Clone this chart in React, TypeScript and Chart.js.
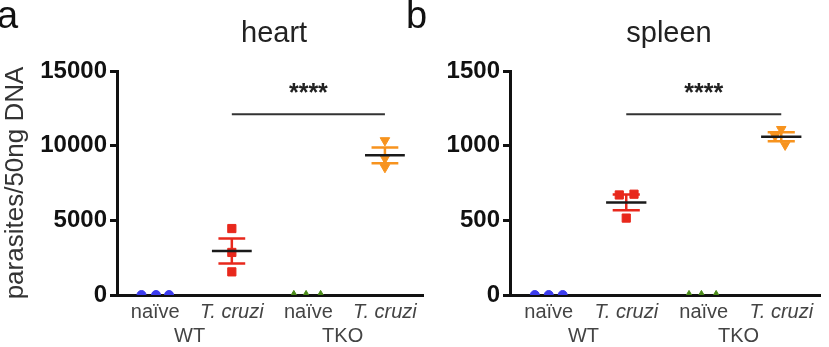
import { useEffect, useRef } from 'react';
import { Chart, registerables } from 'chart.js';

Chart.register(...registerables);

const FONT = '"Liberation Sans", Arial, Helvetica, sans-serif';

// x-axis groups (two strains, each naïve vs. infected)
const GROUP_LABELS = ['naïve', 'T. cruzi', 'naïve', 'T. cruzi'];
const STRAIN_LABELS = ['WT', 'TKO'];
const GROUP_COLORS = ['#3c3cee', '#e8281c', '#4a8a18', '#f7931e'];
const GROUP_MARKERS = ['circle', 'rect', 'triangle', 'triangle'];
const GROUP_MARKER_ROTATION = [0, 0, 0, 180];
const GROUP_MARKER_RADIUS = [4.5, 5.8, 4.6, 5.5];

// heart: parasite load per animal
const HEART_NAIVE_WT = [0, 0, 0];
const HEART_CRUZI_WT = [4450, 1550, 2850];
const HEART_NAIVE_TKO = [0, 0, 0];
const HEART_CRUZI_TKO = [10350, 8550, 9150];
const HEART_TICKS = [0, 5000, 10000, 15000];
const HEART_SIG_LEVEL = 12100;

// spleen: parasite load per animal
const SPLEEN_NAIVE_WT = [0, 0, 0];
const SPLEEN_CRUZI_WT = [670, 675, 515];
const SPLEEN_NAIVE_TKO = [0, 0, 0];
const SPLEEN_CRUZI_TKO = [1110, 1005, 1065];
const SPLEEN_TICKS = [0, 500, 1000, 1500];
const SPLEEN_SIG_LEVEL = 1210;

const SIG_TEXT = '****';
const Y_TITLE = 'parasites/50ng DNA';

// horizontal scatter of replicate points within a group (fraction of a group slot)
const HEART_JITTER = [[-0.18, 0.01, 0.18], [0, 0, 0], [-0.19, -0.03, 0.16], [0, 0, 0]];
const SPLEEN_JITTER = [[-0.18, 0, 0.18], [-0.09, 0.1, 0], [-0.19, -0.03, 0.16], [0, 0.05, -0.08]];

type PanelSpec = {
  letter: string;
  title: string;
  groups: number[][];
  jitter: number[][];
  ticks: number[];
  sigLevel: number;
  yTitle: string | null;
  yWidth: number;
  padRight: number;
  letterX: number;
};

const meanSem = (vals: number[]) => {
  const n = vals.length;
  const mean = vals.reduce((a, b) => a + b, 0) / n;
  const sd = Math.sqrt(vals.reduce((a, b) => a + (b - mean) ** 2, 0) / (n - 1));
  return { mean, sem: sd / Math.sqrt(n) };
};

const panelPlugin = {
  id: 'panelDecor',
  afterDatasetsDraw(chart: any, _args: any, opts: any) {
    const { ctx } = chart;
    const x = chart.scales.x;
    const y = chart.scales.y;
    const slot = x.getPixelForValue(1) - x.getPixelForValue(0);
    ctx.save();
    // mean ± SEM
    (opts.groups as number[][]).forEach((vals, i) => {
      if (vals.every((v) => v === 0)) return;
      const { mean, sem } = meanSem(vals);
      const cx = x.getPixelForValue(i);
      const yHi = y.getPixelForValue(mean + sem);
      const yLo = y.getPixelForValue(mean - sem);
      const yM = y.getPixelForValue(mean);
      const cap = slot * 0.175;
      const half = slot * 0.26;
      ctx.strokeStyle = GROUP_COLORS[i];
      ctx.lineWidth = 2.5;
      ctx.beginPath();
      ctx.moveTo(cx, yHi);
      ctx.lineTo(cx, yLo);
      ctx.moveTo(cx - cap, yHi);
      ctx.lineTo(cx + cap, yHi);
      ctx.moveTo(cx - cap, yLo);
      ctx.lineTo(cx + cap, yLo);
      ctx.stroke();
      ctx.strokeStyle = '#1a1a1a';
      ctx.beginPath();
      ctx.moveTo(cx - half, yM);
      ctx.lineTo(cx + half, yM);
      ctx.stroke();
    });
    // significance bar between the infected groups
    const sy = y.getPixelForValue(opts.sigLevel);
    const x1 = x.getPixelForValue(1);
    const x2 = x.getPixelForValue(3);
    ctx.strokeStyle = '#333';
    ctx.lineWidth = 2;
    ctx.beginPath();
    ctx.moveTo(x1, sy);
    ctx.lineTo(x2, sy);
    ctx.stroke();
    ctx.fillStyle = '#222';
    ctx.font = `bold 25px ${FONT}`;
    ctx.textAlign = 'center';
    ctx.textBaseline = 'alphabetic';
    ctx.fillText(SIG_TEXT, (x1 + x2) / 2, sy - 13);
    ctx.restore();
  },
  afterDraw(chart: any, _args: any, opts: any) {
    const { ctx, chartArea } = chart;
    const x = chart.scales.x;
    ctx.save();
    ctx.textBaseline = 'alphabetic';
    // panel title
    ctx.fillStyle = '#222';
    ctx.font = `29px ${FONT}`;
    ctx.textAlign = 'center';
    ctx.fillText(opts.title, (chartArea.left + chartArea.right) / 2 + 4, 42);
    // panel letter
    ctx.fillStyle = '#111';
    ctx.font = `38px ${FONT}`;
    ctx.textAlign = 'left';
    ctx.fillText(opts.letter, opts.letterX, 28);
    // strain labels under each pair of groups
    ctx.fillStyle = '#444';
    ctx.font = `20px ${FONT}`;
    ctx.textAlign = 'center';
    STRAIN_LABELS.forEach((s, k) => {
      const cx = (x.getPixelForValue(2 * k) + x.getPixelForValue(2 * k + 1)) / 2;
      ctx.fillText(s, cx - 4, 342);
    });
    ctx.restore();
  },
};

function Panel({ spec, left, width }: { spec: PanelSpec; left: number; width: number }) {
  const ref = useRef<HTMLCanvasElement>(null);
  useEffect(() => {
    const canvas = ref.current;
    if (!canvas) return;
    const datasets = spec.groups.map((vals, i) => ({
      type: 'scatter' as const,
      label: `${GROUP_LABELS[i]} ${STRAIN_LABELS[i >> 1]}`,
      data: vals.map((v, j) => ({ x: i + spec.jitter[i][j], y: v })),
      pointStyle: GROUP_MARKERS[i],
      rotation: GROUP_MARKER_ROTATION[i],
      pointRadius: GROUP_MARKER_RADIUS[i],
      backgroundColor: GROUP_COLORS[i],
      borderColor: GROUP_COLORS[i],
      borderWidth: 1,
      showLine: false,
    }));
    const chart = new Chart(canvas, {
      type: 'scatter',
      data: { datasets },
      options: {
        responsive: false,
        animation: false,
        devicePixelRatio: 1,
        layout: { padding: { top: 71, left: 0, right: spec.padRight, bottom: 0 } },
        plugins: {
          legend: { display: false },
          tooltip: { enabled: false },
          title: { display: false },
          panelDecor: {
            groups: spec.groups,
            sigLevel: spec.sigLevel,
            title: spec.title,
            letter: spec.letter,
            letterX: spec.letterX,
          },
        } as any,
        scales: {
          x: {
            type: 'linear',
            min: -0.5,
            max: 3.5,
            afterBuildTicks: (s: any) => {
              s.ticks = GROUP_LABELS.map((_, i) => ({ value: i }));
            },
            afterFit: (s: any) => {
              s.height = 52;
            },
            border: { display: true, color: '#111', width: 3 },
            grid: { display: false, drawTicks: false },
            ticks: {
              autoSkip: false,
              maxRotation: 0,
              padding: 5,
              color: '#444',
              font: (c: any) => ({ family: FONT, size: 20, style: c.index % 2 ? 'italic' : 'normal' }),
              callback: (v: any) => GROUP_LABELS[v] ?? '',
            },
          },
          y: {
            type: 'linear',
            min: spec.ticks[0],
            max: spec.ticks[spec.ticks.length - 1],
            afterBuildTicks: (s: any) => {
              s.ticks = spec.ticks.map((v) => ({ value: v }));
            },
            afterFit: (s: any) => {
              s.width = spec.yWidth;
            },
            border: { display: true, color: '#111', width: 3 },
            grid: {
              display: true,
              drawOnChartArea: false,
              drawTicks: true,
              tickLength: 7,
              color: '#111',
              lineWidth: 3,
            },
            ticks: {
              padding: 3,
              color: '#111',
              font: { family: FONT, size: 24, weight: 'bold' },
              callback: (v: any) => String(v),
            },
            title: {
              display: !!spec.yTitle,
              text: spec.yTitle ?? '',
              color: '#333',
              font: { family: FONT, size: 26 },
              padding: 0,
            },
          },
        },
      },
      plugins: [panelPlugin],
    } as any);
    return () => chart.destroy();
  }, [spec]);
  return (
    <canvas
      ref={ref}
      width={width}
      height={347}
      style={{ position: 'absolute', left, top: 0, width, height: 347 }}
    />
  );
}

const HEART: PanelSpec = {
  letter: 'a',
  title: 'heart',
  groups: [HEART_NAIVE_WT, HEART_CRUZI_WT, HEART_NAIVE_TKO, HEART_CRUZI_TKO],
  jitter: HEART_JITTER,
  ticks: HEART_TICKS,
  sigLevel: HEART_SIG_LEVEL,
  yTitle: Y_TITLE,
  yWidth: 117,
  padRight: 5,
  letterX: -3,
};

const SPLEEN: PanelSpec = {
  letter: 'b',
  title: 'spleen',
  groups: [SPLEEN_NAIVE_WT, SPLEEN_CRUZI_WT, SPLEEN_NAIVE_TKO, SPLEEN_CRUZI_TKO],
  jitter: SPLEEN_JITTER,
  ticks: SPLEEN_TICKS,
  sigLevel: SPLEEN_SIG_LEVEL,
  yTitle: null,
  yWidth: 110,
  padRight: 9,
  letterX: 6,
};

export default function App() {
  return (
    <div style={{ position: 'fixed', left: 0, top: 0, width: 829, height: 347, background: '#fff', overflow: 'hidden' }}>
      <Panel spec={HEART} left={0} width={430} />
      <Panel spec={SPLEEN} left={400} width={429} />
    </div>
  );
}
